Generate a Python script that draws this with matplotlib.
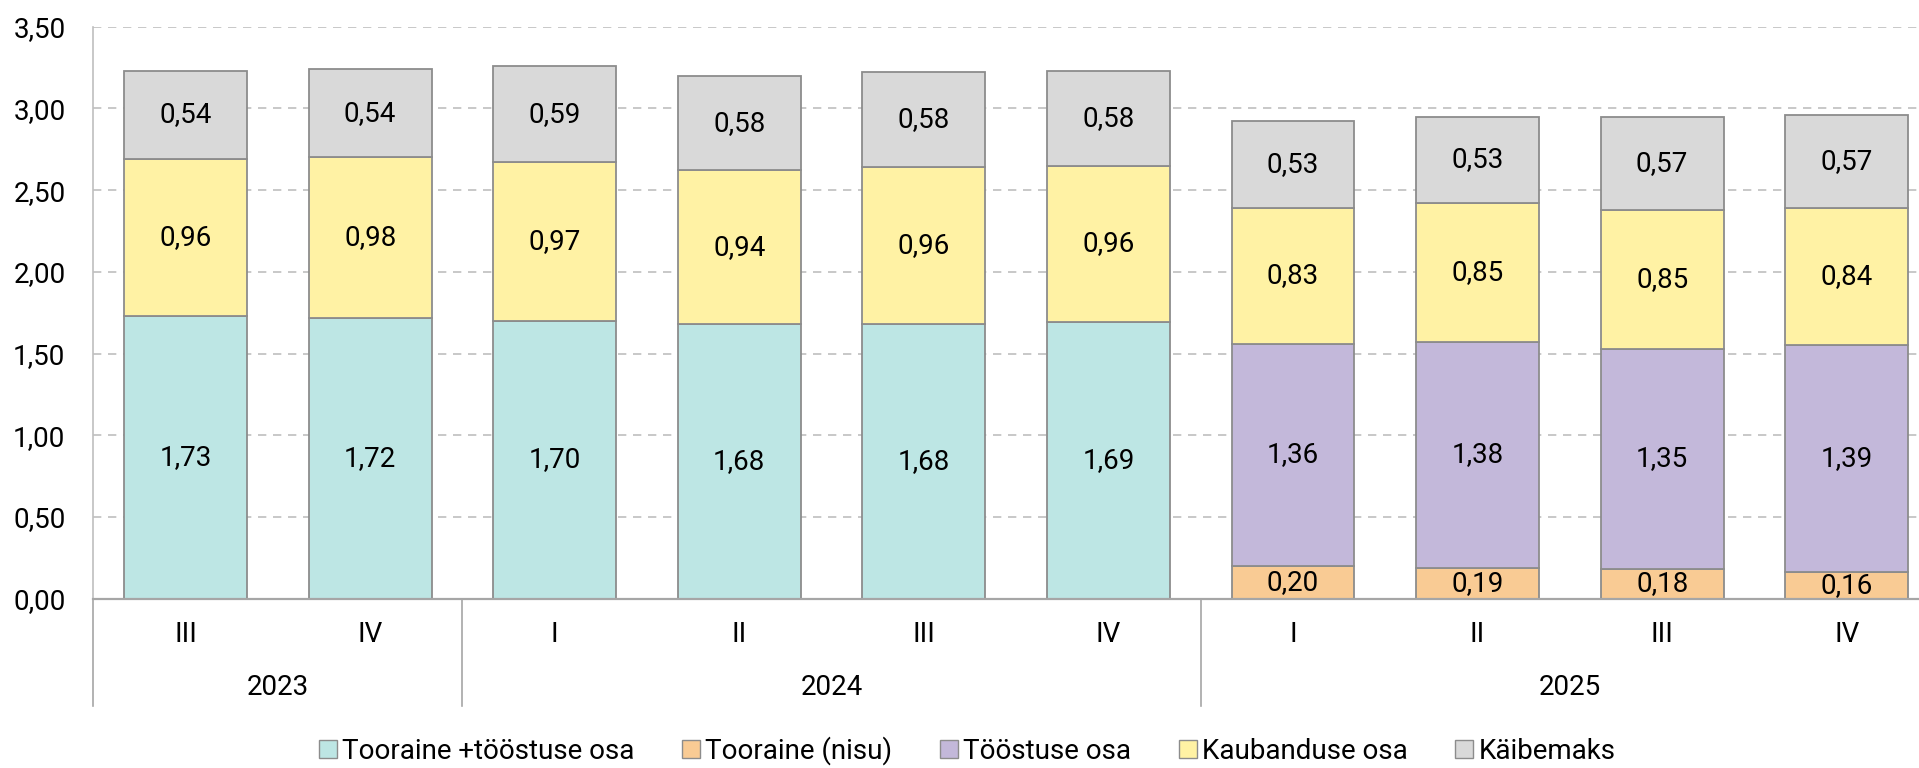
import numpy as np
import matplotlib
matplotlib.use("Agg")
import matplotlib.pyplot as plt
from matplotlib.patches import Patch

plt.rcParams['font.family'] = ['Roboto', 'DejaVu Sans']

quarters = ["III", "IV", "I", "II", "III", "IV", "I", "II", "III", "IV"]
years = ["2023", "2024", "2025"]
year_counts = [2, 4, 4]

tooraine_toostus = [1.73, 1.72, 1.70, 1.68, 1.68, 1.69, None, None, None, None]
tooraine_nisu = [None, None, None, None, None, None, 0.20, 0.19, 0.18, 0.16]
toostuse_osa = [None, None, None, None, None, None, 1.36, 1.38, 1.35, 1.39]
kaubanduse_osa = [0.96, 0.98, 0.97, 0.94, 0.96, 0.96, 0.83, 0.85, 0.85, 0.84]
kaibemaks = [0.54, 0.54, 0.59, 0.58, 0.58, 0.58, 0.53, 0.53, 0.57, 0.57]

series = [
    ("Tooraine +tööstuse osa", tooraine_toostus, "#BDE6E4"),
    ("Tooraine (nisu)", tooraine_nisu, "#F9CB94"),
    ("Tööstuse osa", toostuse_osa, "#C3B8DA"),
    ("Kaubanduse osa", kaubanduse_osa, "#FFF2A4"),
    ("Käibemaks", kaibemaks, "#D9D9D9"),
]

W, H = 1919, 768
fig = plt.figure(figsize=(W / 100, H / 100), dpi=100)
ax_left = 93.3 / W
ax_right = 1939.0 / W
ax_bottom = (H - 598.6) / H
ax_top = (H - 26.7) / H
ax = fig.add_axes([ax_left, ax_bottom, ax_right - ax_left, ax_top - ax_bottom])

x = np.arange(len(quarters))
bottom = np.zeros(len(quarters))
edge = "#8C8C8C"
fs = 20
handles = []
for name, vals, col in series:
    v = np.array([np.nan if a is None else a for a in vals], dtype=float)
    bars = ax.bar(x, v, width=0.666, bottom=bottom, color=col, edgecolor=edge,
                  linewidth=1.3, zorder=3)
    labels = ["" if np.isnan(a) else f"{a:.2f}".replace(".", ",") for a in v]
    ax.bar_label(bars, labels=labels, label_type="center", fontsize=fs, color="#000000")
    bottom = bottom + np.nan_to_num(v)
    handles.append(Patch(facecolor=col, edgecolor=edge, linewidth=1.0, label=name))

ax.set_xlim(-0.5, len(quarters) - 0.5)
ax.set_ylim(0, 3.5)
yt = np.arange(0, 3.51, 0.5)
ax.set_yticks(yt)
ax.set_yticklabels([f"{t:.2f}".replace(".", ",") for t in yt], fontsize=fs)
ax.tick_params(axis="y", length=0, pad=20)
ax.set_xticks([])
ax.yaxis.grid(True, color="#BFBFBF", linestyle=(0, (5, 4)), linewidth=1.2, zorder=0)
ax.set_axisbelow(True)
for s in ["top", "right"]:
    ax.spines[s].set_visible(False)
ax.spines["left"].set_color("#BFBFBF")
ax.spines["left"].set_linewidth(1.2)
ax.spines["bottom"].set_color("#A6A6A6")
ax.spines["bottom"].set_linewidth(1.6)
ax.spines["bottom"].set_zorder(4)

trans = ax.get_xaxis_transform()
for i, q in enumerate(quarters):
    ax.text(i, -0.0636, q, transform=trans, ha="center", va="center", fontsize=fs)

start = 0
bounds = [-0.5]
for yname, cnt in zip(years, year_counts):
    center = start + (cnt - 1) / 2
    ax.text(center, -0.156, yname, transform=trans, ha="center", va="center", fontsize=fs)
    start += cnt
    bounds.append(start - 0.5)
for b in bounds[:-1]:
    ax.plot([b, b], [0, -0.188], transform=trans, color="#A6A6A6", linewidth=1.2,
            clip_on=False, zorder=5)

fig.legend(handles=handles, loc="center", bbox_to_anchor=(0.504, (H - 751) / H),
           ncol=5, frameon=False, fontsize=fs, handlelength=0.65, handleheight=0.65,
           handletextpad=0.2, columnspacing=1.7, borderpad=0.2)

fig.savefig("out.png", dpi=100)
